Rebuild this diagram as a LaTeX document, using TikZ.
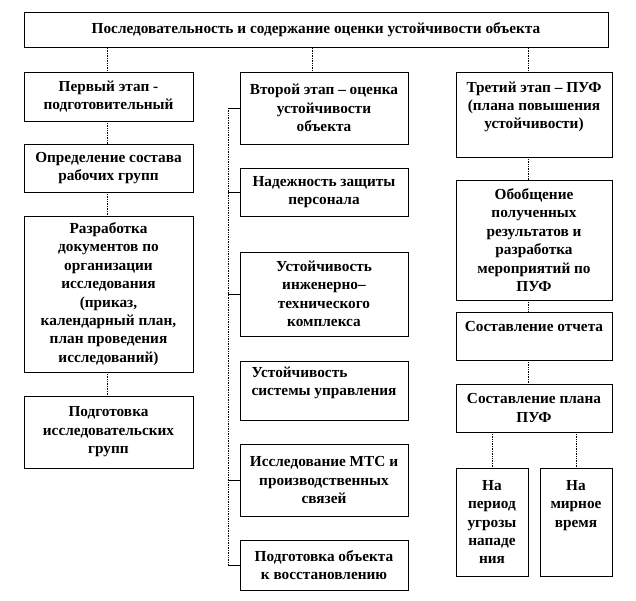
\documentclass[tikz,border=0pt]{standalone}
\usepackage{fontspec}
\setmainfont{Liberation Serif}
\usepackage{tikz}
\usetikzlibrary{calc,positioning}

\begin{document}
\begin{tikzpicture}[x=1pt, y=-1pt,
    box/.style={draw, line width=0.6pt, fill=white, align=center, inner sep=1pt,
        font=\fontsize{15.3}{18.4}\selectfont\bfseries},
    link/.style={line width=0.7pt, densely dotted},
    tick/.style={line width=0.6pt}]
    % Frame
    \useasboundingbox (0,0) rectangle (636,600);

    % Title
    \node[box, minimum width=584, minimum height=35] (title) at (316,30)
        {Последовательность и содержание оценки устойчивости объекта};

    % First stage
    \node[box, minimum width=169, minimum height=49] (p1) at (108.5,96.5)
        {Первый этап -\\подготовительный};
    \node[box, minimum width=169, minimum height=48] (p2) at (108.5,168)
        {Определение состава\\рабочих групп};
    \node[box, minimum width=169, minimum height=156] (p3) at (108.5,294)
        {Разработка\\документов по\\организации\\исследования\\(приказ,\\календарный план,\\план проведения\\исследований)};
    \node[box, minimum width=169, minimum height=72] (p4) at (108.5,432)
        {Подготовка\\исследовательских\\групп};

    % Second stage
    \node[box, minimum width=168, minimum height=72] (s1) at (324,108)
        {Второй этап – оценка\\устойчивости\\объекта};
    \node[box, minimum width=168, minimum height=48] (s2) at (324,192)
        {Надежность защиты\\персонала};
    \node[box, minimum width=168, minimum height=84] (s3) at (324,294)
        {Устойчивость\\инженерно–\\технического\\комплекса};
    \node[box, align=left, minimum width=168, minimum height=59] (s4) at (324,390.5)
        {Устойчивость\\системы управления\\\mbox{}};
    \node[box, minimum width=168, minimum height=72] (s5) at (324,480)
        {Исследование МТС и\\производственных\\связей};
    \node[box, minimum width=168, minimum height=50] (s6) at (324,565)
        {Подготовка объекта\\к восстановлению};

    % Third stage
    \node[box, minimum width=156, minimum height=85] (t1) at (534,114.5)
        {Третий этап – ПУФ\\(плана повышения\\устойчивости)\\\mbox{}};
    \node[box, minimum width=156, minimum height=120] (t2) at (534,240)
        {Обобщение\\полученных\\результатов и\\разработка\\мероприятий по\\ПУФ};
    \node[box, minimum width=156, minimum height=48] (t3) at (534,336)
        {Составление отчета\\\mbox{}};
    \node[box, minimum width=156, minimum height=48] (t4) at (534,408)
        {Составление плана\\ПУФ};
    \node[box, minimum width=72, minimum height=108] (t5) at (492,522)
        {На\\период\\угрозы\\нападе\\ния};
    \node[box, minimum width=72, minimum height=108] (t6) at (576,522)
        {На\\мирное\\время\\\mbox{}\\\mbox{}};

    % Connectors
    \coordinate (c1) at (107,0);
    \coordinate (c2) at (312,0);
    \coordinate (c3) at (528,0);
    \coordinate (bus) at (228,0);
    \draw[link] (title.south -| c1) -- (p1.north -| c1);
    \draw[link] (title.south -| c2) -- (s1.north -| c2);
    \draw[link] (title.south -| c3) -- (t1.north -| c3);
    \foreach \a/\b in {p1/p2, p2/p3, p3/p4}
        \draw[link] (\a.south -| c1) -- (\b.north -| c1);
    \foreach \a/\b in {t1/t2, t2/t3, t3/t4}
        \draw[link] (\a.south -| c3) -- (\b.north -| c3);
    \draw[link] (t4.south -| t5.north) -- (t5.north);
    \draw[link] (t4.south -| t6.north) -- (t6.north);

    % Bus of the second stage
    \draw[link] (s1.west -| bus) -- (s6.west -| bus);
    \foreach \n in {s1, s2, s3, s5, s6}
        \draw[tick] (\n.west -| bus) -- (\n.west);
\end{tikzpicture}
\end{document}
